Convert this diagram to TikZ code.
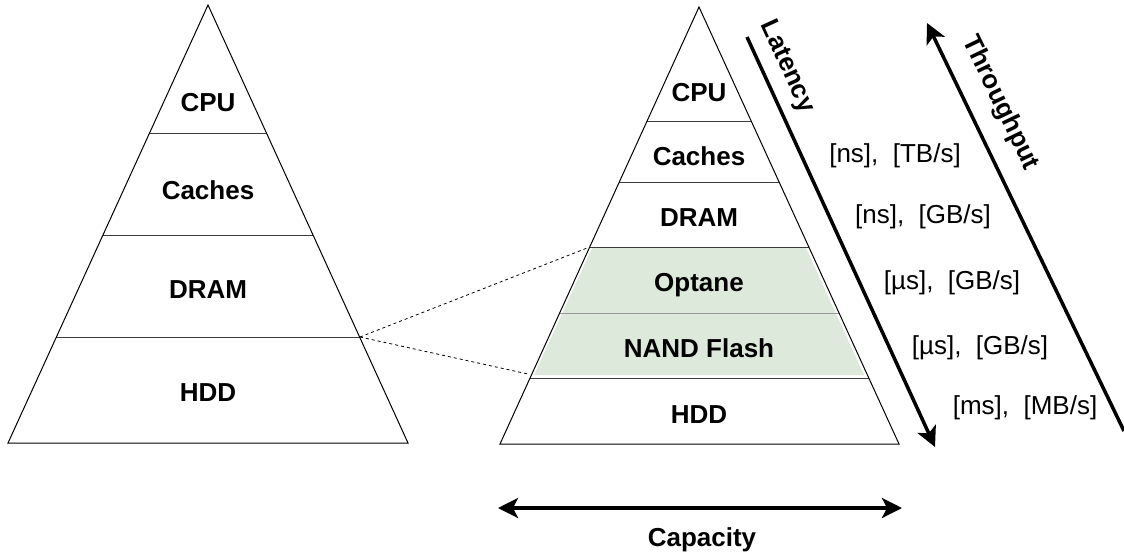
\documentclass[tikz,border=0pt]{standalone}
\usepackage{fontspec}
\setmainfont{Liberation Sans}
\usetikzlibrary{arrows.meta,calc}
\definecolor{layergreen}{RGB}{220,233,219}
\definecolor{divgray}{RGB}{60,60,60}
\tikzset{
  edge/.style={line width=1pt, black, line join=miter},
  divider/.style={line width=1pt, divgray},
  layer/.style={font=\fontsize{26}{30}\selectfont\bfseries, inner sep=0pt},
  metric/.style={font=\fontsize{26}{30}\selectfont, inner sep=0pt},
  axis/.style={line width=3.5pt, black},
  tip/.style={-{Stealth[length=20pt,width=20pt,inset=5pt]}},
  zoomline/.style={line width=0.8pt, dash pattern=on 3pt off 3pt}
}
\begin{document}
\begin{tikzpicture}[x=1pt,y=-1pt]
\useasboundingbox (0,0) rectangle (1124,555);

% ---- left pyramid ----
\coordinate (lA) at (208,5);
\coordinate (lL) at (8,443);
\coordinate (lR) at (408,443);
\foreach \t in {0.2945,0.5251,0.7580}
  \draw[divider] ($(lA)!\t!(lL)$) -- ($(lA)!\t!(lR)$);
\draw[edge] (lA) -- (lL) -- (lR) -- cycle;
\coordinate (lHddTop) at ($(lA)!0.7580!(lR)$);

\node[layer] (lcpu) at (208,103) {CPU};
\node[layer] (lcache) at (208,190) {Caches};
\node[layer] (ldram) at (208,290) {DRAM};
\node[layer] (lhdd) at (208,393) {HDD};

% ---- right pyramid ----
\coordinate (rA) at (699,7);
\coordinate (rL) at (500,444);
\coordinate (rR) at (899,444);

% persistent-memory band
\fill[layergreen] (592,248) -- (806,248) -- (864,375) -- (534,375) -- cycle;
\draw[line width=1pt, gray!80] ($(rA)!0.7025!(rL)$) -- ($(rA)!0.7025!(rR)$);

\foreach \t in {0.2609,0.4027,0.5492,0.8490}
  \draw[divider] ($(rA)!\t!(rL)$) -- ($(rA)!\t!(rR)$);
\draw[edge] (rA) -- (rL) -- (rR) -- cycle;
\coordinate (rOptTop) at ($(rA)!0.5492!(rL)$);
\coordinate (rNandBot) at (528,374);

\node[layer] (rcpu) at (699,93) {CPU};
\node[layer] (rcache) at (699,156) {Caches};
\node[layer] (rdram) at (699,218) {DRAM};
\node[layer] (ropt) at (699,285) {Optane};
\node[layer] (rnand) at (699,348) {NAND Flash};
\node[layer] (rhdd) at (699,415) {HDD};

% zoom lines from the left HDD boundary
\coordinate (zfrom) at (360,337);
\draw[zoomline] (zfrom) -- (rOptTop);
\draw[zoomline] (zfrom) -- (rNandBot);

% ---- latency / throughput axes ----
\coordinate (latS) at (747,37);
\coordinate (latE) at (935,447);
\draw[axis,tip] (latS) -- (latE);
\node[layer, rotate=-65.4] (lat) at (787,67) {Latency};

\coordinate (thrS) at (1124,431);
\coordinate (thrE) at (927,23);
\draw[axis,tip] (thrS) -- (thrE);
\node[layer, rotate=-64.2] (thr) at (1000,103) {Throughput};

\node[metric] (m1) at (895,156) {[ns],\ \ [TB/s]};
\node[metric] (m2) at (923,217) {[ns],\ \ [GB/s]};
\node[metric] (m3) at (952,283) {[µs],\ \ [GB/s]};
\node[metric] (m4) at (980,348) {[µs],\ \ [GB/s]};
\node[metric] (m5) at (1025,408) {[ms],\ \ [MB/s]};

% ---- capacity axis ----
\coordinate (capL) at (498,508);
\coordinate (capR) at (902,508);
\draw[axis,{Stealth[length=20pt,width=20pt,inset=5pt]}-{Stealth[length=20pt,width=20pt,inset=5pt]}] (capL) -- (capR);
\node[layer] (cap) at (702,540) {Capacity};
\end{tikzpicture}
\end{document}
